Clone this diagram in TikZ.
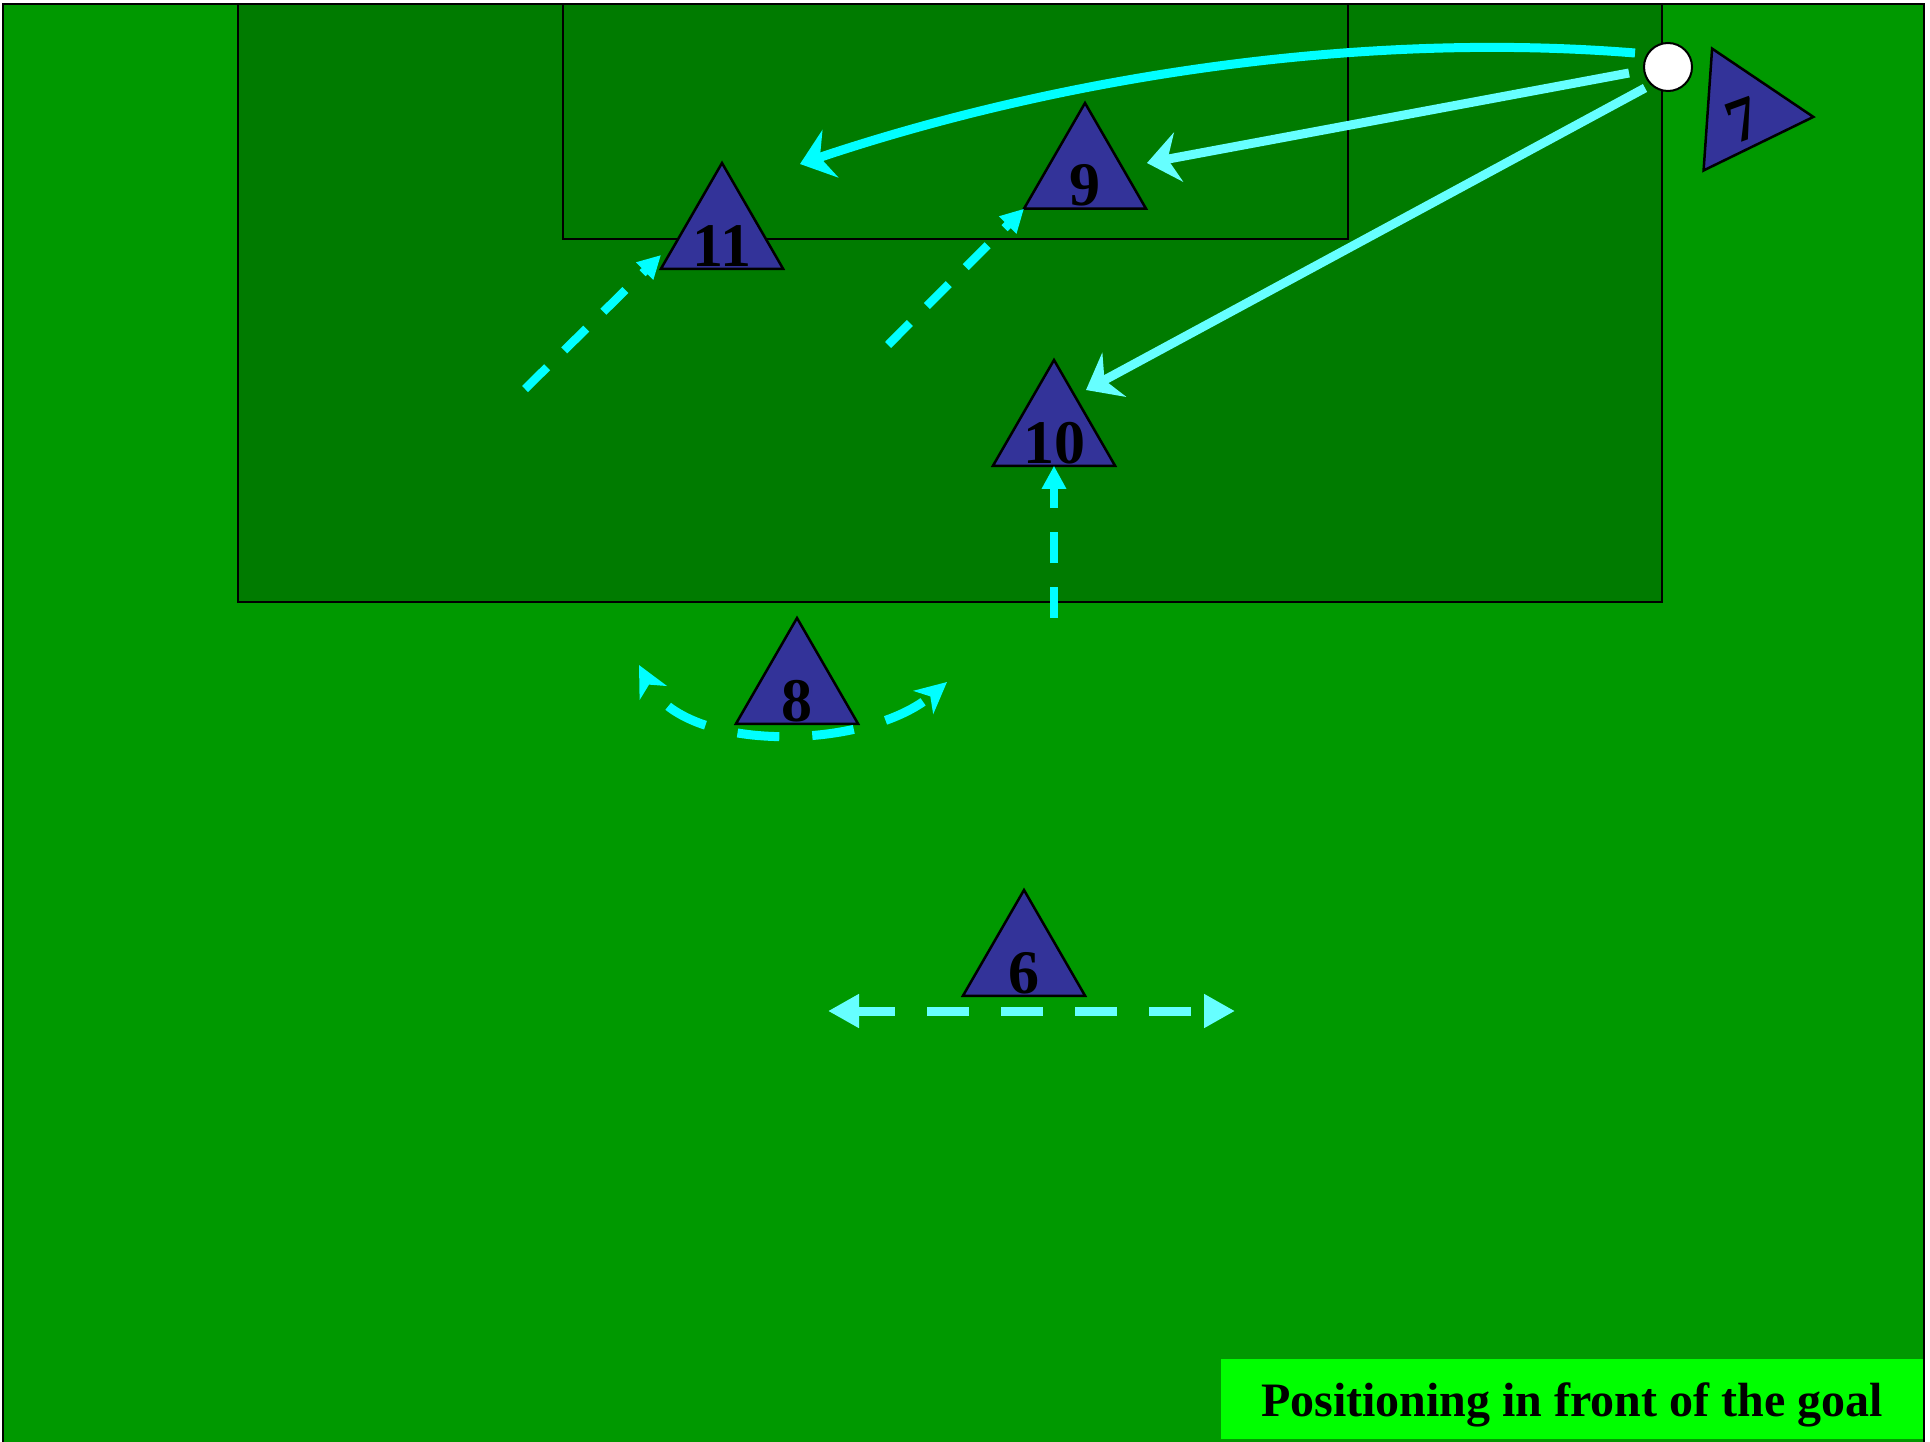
\documentclass[tikz,border=0pt]{standalone}
\usepackage{fontspec}
\setmainfont{Liberation Serif}
\usetikzlibrary{shapes.geometric,arrows.meta,calc}

\definecolor{pitch}{RGB}{0,153,0}
\definecolor{areafill}{RGB}{0,123,0}
\definecolor{playerblue}{RGB}{51,51,153}
\definecolor{runcyan}{RGB}{0,255,255}
\definecolor{passcyan}{RGB}{102,255,255}
\definecolor{captionfill}{RGB}{0,255,0}

\begin{document}
\begin{tikzpicture}[x=1pt,y=-1pt,
  player/.style={regular polygon, regular polygon sides=3, minimum size=141pt,
    inner sep=0pt, outer sep=0pt, draw=black, line width=2.5pt, fill=playerblue},
  num/.style={font=\fontsize{62}{62}\selectfont\bfseries, inner sep=0pt, anchor=base},
  areabox/.style={fill=areafill, draw=black, line width=2pt},
  cross/.style={draw=runcyan, line width=9pt, -{Stealth[length=32pt,width=50pt,inset=11pt]}},
  pass/.style={draw=passcyan, line width=9pt, -{Stealth[length=32pt,width=50pt,inset=11pt]}},
  run/.style={draw=runcyan, line width=8.5pt, dash pattern=on 31pt off 24pt,
    -{Triangle[length=23pt,width=23pt]}},
  swerve/.style={draw=runcyan, line width=9pt, dash pattern=on 42pt off 33pt, dash phase=44pt,
    {Stealth[length=31pt,width=30pt,inset=9pt]}-{Stealth[length=31pt,width=30pt,inset=9pt]}},
  lateral/.style={draw=passcyan, line width=9pt, dash pattern=on 42pt off 32pt, dash phase=4pt,
    {Triangle[length=31pt,width=32pt]}-{Triangle[length=31pt,width=32pt]}}
]
% canvas
\fill[white] (0,0) rectangle (1930,1442);
\useasboundingbox (0,0) rectangle (1930,1442);

% pitch, penalty area and goal area
\filldraw[fill=pitch, draw=black, line width=2pt] (3,4) rectangle (1924,1446);
\filldraw[areabox] (238,4) rectangle (1662,602);
\filldraw[areabox] (563,4) rectangle (1348,239);

% caption
\node[fill=captionfill, inner sep=0pt, minimum width=702pt, minimum height=80pt,
  text height=40pt, text depth=6pt, font=\fontsize{48}{48}\selectfont\bfseries]
  (caption) at (1572,1399) {Positioning in front of the goal};

% players
\node[player] (p11) at (722,233.5) {};
\node[num] (n11) at (722,266) {11};
\node[player] (p9) at (1085,173.5) {};
\node[num] (n9) at (1085,206) {9};
\node[player] (p10) at (1054,430.5) {};
\node[num] (n10) at (1054,463) {10};
\node[player] (p8) at (797,688.5) {};
\node[num] (n8) at (797,721) {8};
\node[player] (p6) at (1024,960.5) {};
\node[num] (n6) at (1024,993) {6};
\node[player, rotate=-94] (p7) at (1743,112) {};
\node[num, anchor=center, rotate=20] (n7) at (1743,120) {7};

% ball
\node[circle, draw=black, line width=2pt, fill=white, minimum size=48pt, inner sep=0pt]
  (ball) at (1668,67) {};

% delivery options from the ball
\draw[cross] ($(ball)+(-33,-14)$) .. controls (1350,30) and (1050,80) .. ($(p11)+(78,-69.5)$);
\draw[pass] ($(ball)+(-39,6)$) -- ($(p9)+(62,-10.5)$);
\draw[pass] ($(ball)+(-23,21)$) -- ($(p10)+(32,-40.5)$);

% runs into the box
\coordinate (r11) at (525,389);
\draw[run] (r11) -- ($(p11)+(-61,21.5)$);
\coordinate (r9) at (888,345);
\draw[run] (r9) -- (p9.corner 2);
\coordinate (r10) at (1054,618);
\draw[run] (r10) -- ($(p10.corner 2)!0.5!(p10.corner 3)$);

% movement of 8 and 6
\coordinate (s8l) at (639,665);
\coordinate (s8r) at (947,682);
\draw[swerve] (s8l) .. controls (685,755) and (868,750) .. (s8r);
\coordinate (s6l) at (828,1011);
\coordinate (s6r) at (1235,1011);
\draw[lateral] (s6l) -- (s6r);
\end{tikzpicture}
\end{document}
